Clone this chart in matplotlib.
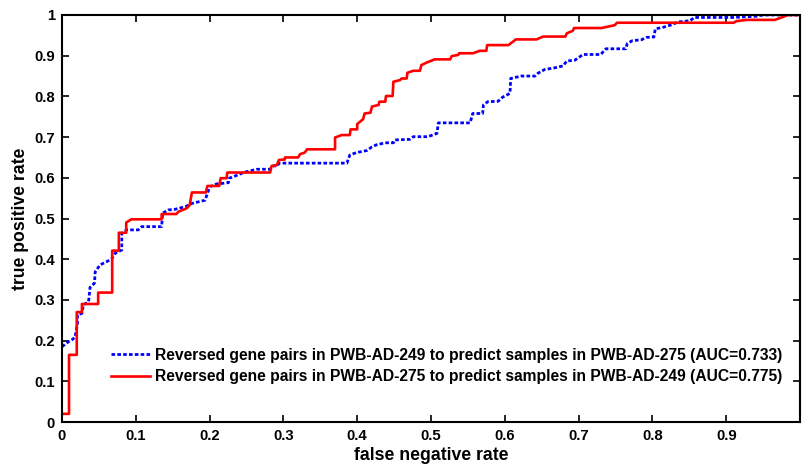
import matplotlib
matplotlib.use("Agg")
import matplotlib.pyplot as plt

plt.rcParams['font.family'] = ['Liberation Sans', 'DejaVu Sans']
plt.rcParams['font.weight'] = 'bold'

# Series 1 (blue, dotted): PWB-AD-249 -> PWB-AD-275
blue_fnr = [0.000, 0.0086, 0.013, 0.0176, 0.021, 0.021, 0.027, 0.029, 0.036, 0.038,
            0.044, 0.045, 0.0515, 0.0605, 0.067, 0.072, 0.081, 0.081, 0.0876, 0.1034,
            0.108, 0.135, 0.1364, 0.144, 0.153, 0.158, 0.167, 0.176, 0.185, 0.194,
            0.197, 0.2005, 0.2096, 0.216, 0.2255, 0.2267, 0.234, 0.2435, 0.250, 0.264,
            0.282, 0.2855, 0.291, 0.2945, 0.386, 0.390, 0.399, 0.413, 0.420, 0.426,
            0.438, 0.449, 0.451, 0.4715, 0.476, 0.496, 0.508, 0.510, 0.553, 0.5565,
            0.570, 0.571, 0.577, 0.591, 0.597, 0.607, 0.608, 0.622, 0.641, 0.645,
            0.654, 0.667, 0.679, 0.684, 0.695, 0.706, 0.730, 0.737, 0.764, 0.766,
            0.773, 0.785, 0.792, 0.802, 0.804, 0.815, 0.826, 0.835, 0.851, 0.857,
            0.910, 0.941, 0.950, 1.000]
blue_tpr = [0.185, 0.197, 0.2015, 0.208, 0.2425, 0.263, 0.267, 0.2875, 0.2956, 0.331,
            0.341, 0.369, 0.386, 0.394, 0.400, 0.4145, 0.4226, 0.4636, 0.472, 0.472,
            0.480, 0.480, 0.513, 0.521, 0.5225, 0.525, 0.529, 0.537, 0.541, 0.545,
            0.562, 0.578, 0.585, 0.586, 0.588, 0.599, 0.604, 0.611, 0.615, 0.621,
            0.621, 0.629, 0.629, 0.636, 0.636, 0.656, 0.662, 0.667, 0.676, 0.681,
            0.686, 0.686, 0.693, 0.6945, 0.701, 0.701, 0.709, 0.735, 0.735, 0.758,
            0.758, 0.779, 0.787, 0.788, 0.798, 0.8075, 0.844, 0.850, 0.850, 0.857,
            0.866, 0.870, 0.875, 0.887, 0.889, 0.903, 0.903, 0.917, 0.917, 0.930,
            0.937, 0.939, 0.945, 0.946, 0.966, 0.970, 0.976, 0.983, 0.986, 0.994,
            0.994, 0.997, 1.000, 1.000]

# Series 2 (red, solid): PWB-AD-275 -> PWB-AD-249
red_fnr = [0.000, 0.0095, 0.0095, 0.020, 0.020, 0.027, 0.027, 0.049, 0.049, 0.068,
           0.068, 0.077, 0.077, 0.087, 0.087, 0.094, 0.135, 0.135, 0.155, 0.158,
           0.169, 0.173, 0.176, 0.195, 0.197, 0.213, 0.215, 0.223, 0.224, 0.282,
           0.284, 0.291, 0.294, 0.302, 0.302, 0.320, 0.3225, 0.329, 0.332, 0.370,
           0.370, 0.379, 0.390, 0.391, 0.400, 0.400, 0.408, 0.410, 0.418, 0.420,
           0.429, 0.430, 0.438, 0.439, 0.448, 0.449, 0.458, 0.460, 0.467, 0.468,
           0.476, 0.485, 0.487, 0.494, 0.505, 0.526, 0.528, 0.537, 0.538, 0.557,
           0.566, 0.575, 0.576, 0.605, 0.615, 0.643, 0.652, 0.682, 0.684, 0.692,
           0.694, 0.731, 0.749, 0.752, 0.910, 0.914, 0.928, 0.966, 0.984, 1.000]
red_tpr = [0.020, 0.020, 0.165, 0.165, 0.270, 0.270, 0.290, 0.290, 0.318, 0.318,
           0.421, 0.421, 0.465, 0.465, 0.490, 0.498, 0.498, 0.511, 0.511, 0.517,
           0.525, 0.533, 0.564, 0.564, 0.580, 0.580, 0.599, 0.599, 0.613, 0.613,
           0.629, 0.631, 0.644, 0.645, 0.650, 0.650, 0.658, 0.662, 0.670, 0.670,
           0.699, 0.705, 0.705, 0.719, 0.719, 0.732, 0.744, 0.758, 0.760, 0.775,
           0.779, 0.787, 0.787, 0.801, 0.801, 0.836, 0.840, 0.844, 0.844, 0.858,
           0.863, 0.863, 0.877, 0.883, 0.891, 0.891, 0.899, 0.902, 0.906, 0.906,
           0.912, 0.912, 0.926, 0.926, 0.940, 0.940, 0.947, 0.947, 0.955, 0.961,
           0.968, 0.968, 0.975, 0.981, 0.981, 0.985, 0.988, 0.988, 1.000, 1.000]

labels = ["Reversed gene pairs in PWB-AD-249 to predict samples in PWB-AD-275 (AUC=0.733)",
          "Reversed gene pairs in PWB-AD-275 to predict samples in PWB-AD-249 (AUC=0.775)"]
x_ticks = [0, 0.1, 0.2, 0.3, 0.4, 0.5, 0.6, 0.7, 0.8, 0.9]
x_ticklabels = ["0", "0.1", "0.2", "0.3", "0.4", "0.5", "0.6", "0.7", "0.8", "0.9"]
y_ticks = [0, 0.1, 0.2, 0.3, 0.4, 0.5, 0.6, 0.7, 0.8, 0.9, 1.0]
y_ticklabels = ["0", "0.1", "0.2", "0.3", "0.4", "0.5", "0.6", "0.7", "0.8", "0.9", "1"]

fig = plt.figure(figsize=(8.03, 4.66), dpi=100)
ax = fig.add_axes([62/803, 44/466, 738/803, 407/466])

ax.plot(blue_fnr, blue_tpr, color=(0, 0, 1), linewidth=2.0,
        linestyle=(0, (1.3, 0.8)), label=labels[0])
ax.plot(red_fnr, red_tpr, color=(1, 0, 0), linewidth=1.9,
        linestyle='-', label=labels[1])

ax.set_xlim(0, 1)
ax.set_ylim(0, 1)
ax.set_xticks(x_ticks)
ax.set_xticklabels(x_ticklabels)
ax.set_yticks(y_ticks)
ax.set_yticklabels(y_ticklabels)
ax.tick_params(direction='in', length=5, width=1.2, top=True, right=True,
               labelsize=10.7, pad=5)
for lab in ax.get_xticklabels() + ax.get_yticklabels():
    lab.set_fontweight('bold')
for s in ax.spines.values():
    s.set_linewidth(1.5)

ax.set_xlabel("false negative rate", fontsize=12.7, fontweight='bold', labelpad=3)
ax.set_ylabel("true positive rate", fontsize=12.7, fontweight='bold', labelpad=4)

leg = ax.legend(loc='lower right', bbox_to_anchor=(0.9756, 0.093), frameon=False,
                fontsize=11.25, handlelength=2.5, handletextpad=0.3,
                labelspacing=0.4, borderpad=0.0, borderaxespad=0.0)
for t in leg.get_texts():
    t.set_fontweight('bold')

fig.savefig("out.png", dpi=100)
